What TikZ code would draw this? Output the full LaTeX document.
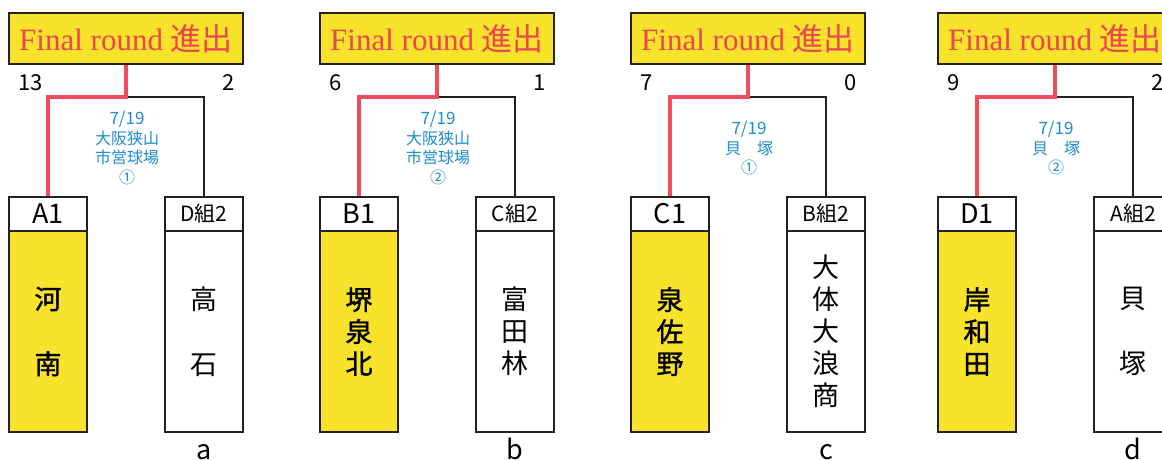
\documentclass[tikz,border=0pt]{standalone}
\usepackage{fontspec}
\setmainfont{Liberation Serif}
\newfontfamily\cjk{Noto Sans CJK JP}
\newfontfamily\cjkmed[FakeBold=1.2]{Noto Sans CJK JP}
\definecolor{fy}{RGB}{248,226,42}
\definecolor{fr}{RGB}{236,68,82}
\definecolor{fl}{RGB}{240,78,92}
\definecolor{fb}{RGB}{30,140,210}
\definecolor{ink}{RGB}{40,32,32}
\tikzset{
 topbox/.style={draw=ink, line width=2pt, fill=fy, minimum width=234pt, minimum height=51pt, inner sep=0pt, text=fr, font=\fontsize{31}{31}\selectfont},
 headbox/.style={draw=ink, line width=1.8pt, fill=white, minimum width=78pt, minimum height=34pt, inner sep=0pt},
 bodybox/.style={draw=ink, line width=1.8pt, minimum width=78pt, minimum height=201pt, inner sep=0pt, align=center},
 winbody/.style={bodybox, fill=fy, font=\cjkmed\fontsize{27}{32}\selectfont},
 losebody/.style={bodybox, fill=white, font=\cjk\fontsize{27}{32}\selectfont},
 scorelbl/.style={font=\cjk\fontsize{22}{22}\selectfont, inner sep=0pt},
 venue/.style={text=fb, align=center, font=\cjk\fontsize{16}{19.5}\selectfont, inner sep=0pt},
 redline/.style={draw=fl, line width=4pt},
 blackline/.style={draw=ink, line width=1.2pt},
 letterlbl/.style={font=\cjk\fontsize{27}{27}\selectfont, inner sep=0pt, anchor=base}
}
\begin{document}
\begin{tikzpicture}[x=1pt,y=-1pt]
\useasboundingbox (0,0) rectangle (1162,460);
\clip (0,0) rectangle (1162,460);
\fill[white] (0,0) rectangle (1162,460);
\foreach \i/\L/\sa/\sb/\wh/\wn/\lh/\ln/\ven/\lt in {
 1/9/13/2/A1/{河\\[33pt]南}/D組2/{高\\[33pt]石}/{大阪狭山\\市営球場\\①}/a,
 2/320/6/1/B1/{堺\\泉\\北}/C組2/{富\\田\\林}/{大阪狭山\\市営球場\\②}/b,
 3/631/7/0/C1/{泉\\佐\\野}/B組2/{大\\体\\大\\浪\\商}/{貝　塚\\①}/c,
 4/938/9/2/D1/{岸\\和\\田}/A組2/{貝\\[33pt]塚}/{貝　塚\\②}/d}
{
 \node[topbox] (top\i) at (\L+117,38.5) {Final round {\cjk 進出}};
 \node[scorelbl, anchor=west] (sa\i) at (\L+9,83) {\sa};
 \node[scorelbl, anchor=east] (sb\i) at (\L+226,83) {\sb};
 \node[headbox, font=\cjk\fontsize{27}{27}\selectfont] (hw\i) at (\L+39,214) {\wh};
 \node[headbox, font=\cjk\fontsize{21}{21}\selectfont] (hl\i) at (\L+195,214) {\lh};
 \node[winbody] (bw\i) at (\L+39,331.5) {\wn};
 \node[losebody] (bl\i) at (\L+195,331.5) {\ln};
 \coordinate (j\i) at (\L+117,97);
 \node[venue] (v\i) at (\L+118,148) {{\fontsize{17}{19.5}\selectfont 7/19}\\\ven};
 \node[letterlbl] (lt\i) at (\L+195,459) {\lt};
 \draw[blackline] (j\i) -| (hl\i.north);
 \draw[redline] (top\i.south) -- (j\i) -| (hw\i.north);
}
\end{tikzpicture}
\end{document}
